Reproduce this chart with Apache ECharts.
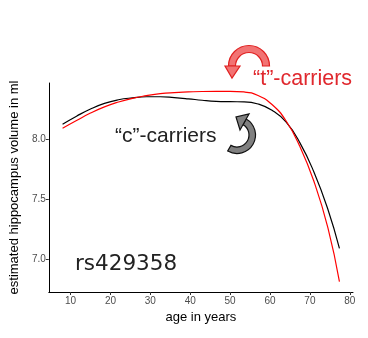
<!DOCTYPE html>
<html>
<head>
<meta charset="utf-8">
<script src="https://cdn.jsdelivr.net/npm/echarts@6/dist/echarts.min.js"></script>
<style>html,body{margin:0;padding:0;background:#fff}#c{width:368px;height:338px}</style>
</head>
<body>
<div id="c"></div>
<script>
// ages (years)
const ages = [8, 11.5, 15, 18.5, 22, 25.5, 29, 32.5, 36, 39.5, 43, 46.5, 50, 53.5, 57, 60.5, 64, 67.5, 71, 74.5, 77.4];
// "c"-carriers (black)
const cCarriers = [8.123, 8.190, 8.250, 8.297, 8.327, 8.343, 8.352, 8.352, 8.345, 8.335, 8.323, 8.314, 8.311, 8.310, 8.292, 8.239, 8.142, 7.968, 7.725, 7.415, 7.089];
// "t"-carriers (red)
const tCarriers = [8.090, 8.154, 8.216, 8.268, 8.308, 8.339, 8.361, 8.378, 8.387, 8.392, 8.396, 8.397, 8.397, 8.392, 8.363, 8.287, 8.152, 7.937, 7.648, 7.262, 6.811];
const xTicks = [10, 20, 30, 40, 50, 60, 70, 80];
const yTicks = [7.0, 7.5, 8.0];

const chart = echarts.init(document.getElementById('c'), null, {renderer: 'canvas'});
const font = 'Liberation Sans, Arial, Helvetica, sans-serif';
const pair = (xs, ys) => xs.map((x, i) => [x, ys[i]]);

chart.setOption({
  animation: false,
  backgroundColor: '#fff',
  grid: {left: 43, top: 83, width: 310, height: 209, containLabel: false},
  xAxis: {
    type: 'value', min: 4.55, max: 80.8,
    name: 'age in years', nameLocation: 'middle', nameGap: 17,
    nameTextStyle: {color: '#000', fontSize: 13, fontFamily: font},
    axisLine: {show: true, onZero: false, lineStyle: {color: '#000', width: 1}},
    axisTick: {show: true, length: 3, customValues: xTicks, lineStyle: {color: '#333'}},
    axisLabel: {customValues: xTicks, color: '#4d4d4d', fontSize: 10, fontFamily: font, margin: 4},
    splitLine: {show: false}
  },
  yAxis: {
    type: 'value', min: 6.725, max: 8.4667,
    name: 'estimated hippocampus volume in ml', nameLocation: 'middle', nameGap: 25,
    nameTextStyle: {color: '#000', fontSize: 13, fontFamily: font},
    axisLine: {show: true, onZero: false, lineStyle: {color: '#000', width: 1}},
    axisTick: {show: true, length: 3, customValues: yTicks, lineStyle: {color: '#333'}},
    axisLabel: {customValues: yTicks, color: '#4d4d4d', fontSize: 10, fontFamily: font, margin: 3,
      formatter: v => v.toFixed(1)},
    splitLine: {show: false}
  },
  series: [
    {type: 'line', data: pair(ages, cCarriers), smooth: true, showSymbol: false,
     lineStyle: {color: '#000', width: 1.2}},
    {type: 'line', data: pair(ages, tCarriers), smooth: true, showSymbol: false,
     lineStyle: {color: '#ff0000', width: 1.2}}
  ],
  graphic: [
    // red curved arrow
    {type: 'sector', shape: {cx: 249, cy: 66, r0: 13.5, r: 20.5, startAngle: Math.PI, endAngle: 2 * Math.PI},
     style: {fill: '#f27373', stroke: '#e02020', lineWidth: 1.2}},
    {type: 'polygon', shape: {points: [[225, 66], [240, 66], [232, 78]]},
     style: {fill: '#f27373', stroke: '#e02020', lineWidth: 1.2}},
    {type: 'text', left: 253, top: 68,
     style: {text: '\u201ct\u201d-carriers', fill: '#e0282e', font: '21.5px ' + font}},
    // gray curved arrow
    {type: 'sector', shape: {cx: 237, cy: 135, r0: 12, r: 18.5, startAngle: -1.05, endAngle: 2.1},
     style: {fill: '#808080', stroke: '#111', lineWidth: 1.2}},
    {type: 'polygon', shape: {points: [[249, 114], [240, 130], [236, 117]]},
     style: {fill: '#808080', stroke: '#111', lineWidth: 1.2}},
    {type: 'text', left: 115, top: 126,
     style: {text: '\u201cc\u201d-carriers', fill: '#222', font: '21px ' + font}},
    // SNP label
    {type: 'text', left: 75, top: 253,
     style: {text: 'rs429358', fill: '#222', font: '21.5px DejaVu Sans, sans-serif'}}
  ]
});
</script>
</body>
</html>
